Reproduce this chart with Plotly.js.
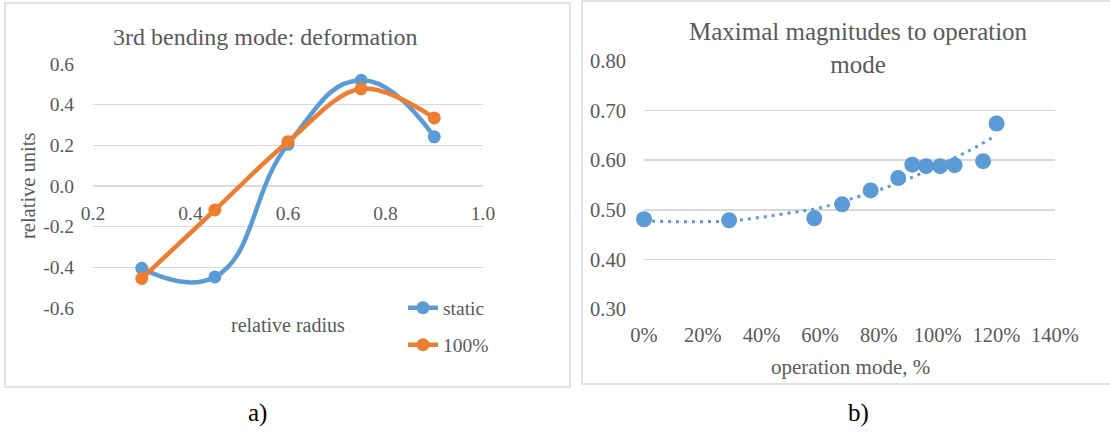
<!DOCTYPE html>
<html>
<head>
<meta charset="utf-8">
<script src="https://cdn.plot.ly/plotly-3.0.1.min.js"></script>
<style>html,body{margin:0;padding:0;background:#fff;}#chart{width:1110px;height:432px;}</style>
</head>
<body>
<div id="chart"></div>
<script>
// ---- data ----
const radius = [0.3, 0.45, 0.6, 0.75, 0.9];
const staticVals = [-0.405, -0.447, 0.205, 0.52, 0.242];
const fullVals = [-0.455, -0.118, 0.218, 0.478, 0.335];
const seriesNames = ["static", "100%"];

const opMode = [0, 0.29, 0.58, 0.675, 0.772, 0.866, 0.914, 0.961, 1.009, 1.058, 1.155, 1.201];
const magnitudes = [0.481, 0.479, 0.483, 0.511, 0.539, 0.564, 0.591, 0.588, 0.588, 0.590, 0.598, 0.674];
const trendX = [0, 0.1, 0.2, 0.3, 0.4, 0.5, 0.6, 0.7, 0.8, 0.9, 1.0, 1.1, 1.2];
const trendY = [0.478, 0.476, 0.476, 0.478, 0.485, 0.494, 0.504, 0.521, 0.540, 0.562, 0.589, 0.617, 0.650];

const leftXTicks = [0.2, 0.4, 0.6, 0.8, 1.0];
const leftXLabels = ["0.2", "0.4", "0.6", "0.8", "1.0"];
const leftYTicks = [-0.6, -0.4, -0.2, 0.0, 0.2, 0.4, 0.6];
const leftYLabels = ["-0.6", "-0.4", "-0.2", "0.0", "0.2", "0.4", "0.6"];
const rightXTicks = [0, 0.2, 0.4, 0.6, 0.8, 1.0, 1.2, 1.4];
const rightXLabels = ["0%", "20%", "40%", "60%", "80%", "100%", "120%", "140%"];
const rightYTicks = [0.3, 0.4, 0.5, 0.6, 0.7, 0.8];
const rightYLabels = ["0.30", "0.40", "0.50", "0.60", "0.70", "0.80"];

const titles = {
  left: "3rd bending mode: deformation",
  right: "Maximal magnitudes to operation<br>mode",
  leftX: "relative radius",
  leftY: "relative units",
  rightX: "operation mode, %",
  a: "a)",
  b: "b)"
};

// ---- layout helpers ----
const W = 1110, H = 432;
const px = v => v / W;
const py = v => 1 - v / H;
const FONT = "Liberation Serif";
const GRAY = "#595959";
const BLUE = "#5B9BD5";
const ORANGE = "#ED7D31";
const GRID = "#d9d9d9";

const traces = [
  {x: radius, y: staticVals, name: seriesNames[0], type: "scatter", mode: "lines+markers",
   line: {color: BLUE, width: 4.5, shape: "spline", smoothing: 1.3}, marker: {color: BLUE, size: 13},
   xaxis: "x", yaxis: "y", legend: "legend", cliponaxis: false},
  {x: radius, y: fullVals, name: seriesNames[1], type: "scatter", mode: "lines+markers",
   line: {color: ORANGE, width: 4.5, shape: "spline", smoothing: 1}, marker: {color: ORANGE, size: 13},
   xaxis: "x", yaxis: "y", legend: "legend2", cliponaxis: false},
  {x: trendX, y: trendY, type: "scatter", mode: "lines", showlegend: false,
   line: {color: BLUE, width: 3, dash: "3px,5px", shape: "spline"},
   xaxis: "x2", yaxis: "y2", hoverinfo: "skip"},
  {x: opMode, y: magnitudes, type: "scatter", mode: "markers", showlegend: false,
   marker: {color: BLUE, size: 16}, xaxis: "x2", yaxis: "y2", cliponaxis: false}
];

const layout = {
  width: W, height: H,
  margin: {l: 0, r: 0, t: 0, b: 0},
  paper_bgcolor: "#ffffff",
  plot_bgcolor: "rgba(0,0,0,0)",
  font: {family: FONT, color: GRAY},
  xaxis: {
    domain: [px(93), px(483)], range: [0.2, 1.0],
    anchor: "free", position: py(186),
    tickvals: leftXTicks, ticktext: leftXLabels, tickfont: {family: FONT, size: 19.5, color: GRAY},
    showgrid: false, zeroline: false, showline: false,
    ticks: "outside", ticklen: 10, tickcolor: "rgba(0,0,0,0)"
  },
  yaxis: {
    domain: [py(308), py(64)], range: [-0.6, 0.6],
    tickvals: leftYTicks, ticktext: leftYLabels, tickfont: {family: FONT, size: 19.5, color: GRAY},
    showgrid: true, gridcolor: GRID, gridwidth: 1.5, zeroline: false, showline: false,
    ticks: "outside", ticklen: 14, tickcolor: "rgba(0,0,0,0)"
  },
  xaxis2: {
    domain: [px(644), px(1055)], range: [0, 1.4], anchor: "y2",
    tickvals: rightXTicks, ticktext: rightXLabels, tickfont: {family: FONT, size: 20.5, color: GRAY},
    showgrid: false, zeroline: false, showline: false,
    ticks: "outside", ticklen: 7, tickcolor: "rgba(0,0,0,0)"
  },
  yaxis2: {
    domain: [py(309), py(61)], range: [0.3, 0.8], anchor: "x2",
    tickvals: rightYTicks, ticktext: rightYLabels, tickfont: {family: FONT, size: 20.5, color: GRAY},
    showgrid: true, gridcolor: GRID, gridwidth: 1.5, zeroline: false, showline: false,
    ticks: "outside", ticklen: 13, tickcolor: "rgba(0,0,0,0)"
  },
  legend: {
    x: px(403), y: py(308), xanchor: "left", yanchor: "middle",
    bgcolor: "rgba(0,0,0,0)", font: {family: FONT, size: 19.5, color: GRAY}
  },
  legend2: {
    x: px(403), y: py(345), xanchor: "left", yanchor: "middle",
    bgcolor: "rgba(0,0,0,0)", font: {family: FONT, size: 19.5, color: GRAY}
  },
  shapes: [
    {type: "rect", xref: "paper", yref: "paper", x0: px(5), x1: px(570), y0: py(387), y1: py(3),
     line: {color: GRID, width: 1.5}, layer: "below"},
    {type: "rect", xref: "paper", yref: "paper", x0: px(582), x1: px(1116), y0: py(384), y1: py(1),
     line: {color: GRID, width: 1.5}, layer: "below"}
  ],
  annotations: [
    {text: titles.left, xref: "paper", yref: "paper", x: px(265), y: py(37), xanchor: "center", yanchor: "middle",
     showarrow: false, font: {family: FONT, size: 24, color: GRAY}},
    {text: titles.right, xref: "paper", yref: "paper", x: px(858), y: py(48), xanchor: "center", yanchor: "middle",
     showarrow: false, font: {family: FONT, size: 25, color: GRAY}},
    {text: titles.leftX, xref: "paper", yref: "paper", x: px(288), y: py(325), xanchor: "center", yanchor: "middle",
     showarrow: false, font: {family: FONT, size: 20, color: GRAY}},
    {text: titles.leftY, xref: "paper", yref: "paper", x: px(28), y: py(186), xanchor: "center", yanchor: "middle",
     textangle: -90, showarrow: false, font: {family: FONT, size: 20.5, color: GRAY}},
    {text: titles.rightX, xref: "paper", yref: "paper", x: px(850), y: py(367), xanchor: "center", yanchor: "middle",
     showarrow: false, font: {family: FONT, size: 21, color: GRAY}},
    {text: titles.a, xref: "paper", yref: "paper", x: px(257), y: py(413), xanchor: "center", yanchor: "middle",
     showarrow: false, font: {family: FONT, size: 25, color: "#000000"}},
    {text: titles.b, xref: "paper", yref: "paper", x: px(858), y: py(413), xanchor: "center", yanchor: "middle",
     showarrow: false, font: {family: FONT, size: 25, color: "#000000"}}
  ]
};

Plotly.newPlot("chart", traces, layout, {staticPlot: true, displayModeBar: false});
</script>
</body>
</html>
